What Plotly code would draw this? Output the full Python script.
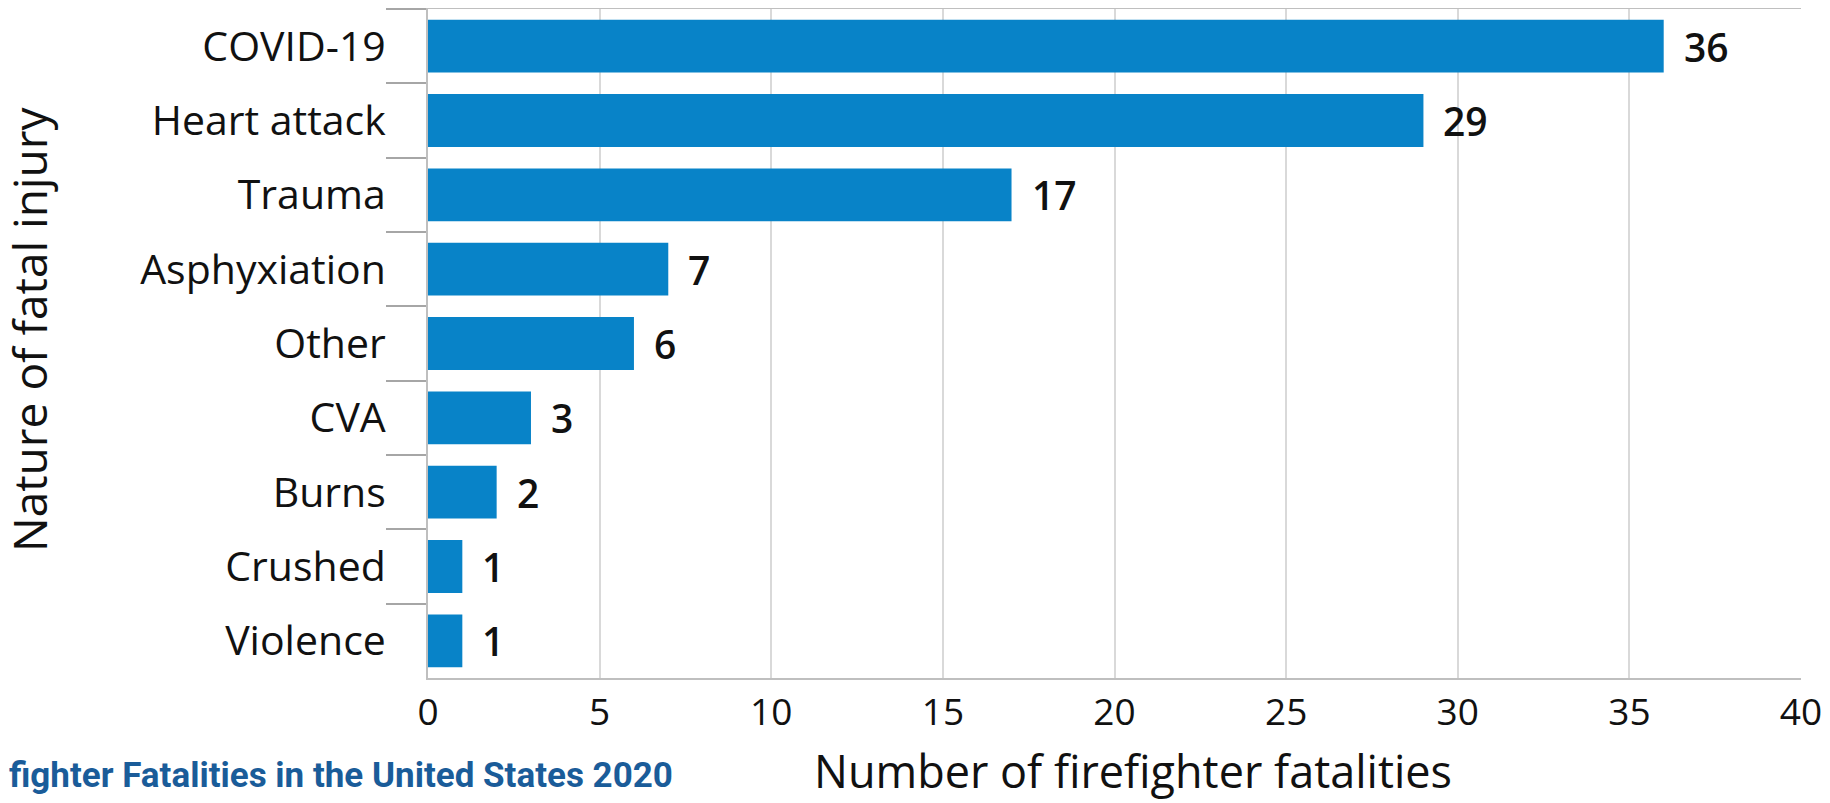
import plotly.graph_objects as go

categories = ["COVID-19", "Heart attack", "Trauma", "Asphyxiation", "Other", "CVA", "Burns", "Crushed", "Violence"]
values = [36, 29, 17, 7, 6, 3, 2, 1, 1]
x_ticks = [0, 5, 10, 15, 20, 25, 30, 35, 40]

BAR = "#0883C8"
FONT = "Open Sans"

# the page body adds an 8px offset, so the figure is drawn 8px smaller
W, H = 1822, 795
L, R, T, B = 420, 29, 1, 125
PW = W - L - R
PH = H - T - B
Y0 = H - B  # bottom of the plot area in figure pixels

fig = go.Figure()
fig.add_trace(go.Bar(
    x=values, y=categories, orientation="h",
    marker=dict(color=BAR, line=dict(width=0)),
    hoverinfo="skip", showlegend=False,
))

for c, v in zip(categories, values):
    fig.add_annotation(x=v, y=c, xref="x", yref="y", text=str(v), showarrow=False,
                       xanchor="left", yanchor="middle", xshift=18,
                       font=dict(family=FONT, size=39, color="#111111", weight=600))

fig.add_annotation(x=(1125 - L) / PW, y=(Y0 - 794) / PH, xref="paper", yref="paper",
                   text="Number of firefighter fatalities", showarrow=False,
                   xanchor="center", yanchor="bottom", borderpad=0,
                   font=dict(family=FONT, size=45, color="#111111"))
fig.add_annotation(x=(21 - L) / PW, y=(Y0 - 322) / PH, xref="paper", yref="paper",
                   text="Nature of fatal injury", showarrow=False, textangle=-90,
                   xanchor="center", yanchor="middle", borderpad=0,
                   font=dict(family=FONT, size=46, color="#111111"))
fig.add_annotation(x=(0 - L) / PW, y=(Y0 - 768) / PH, xref="paper", yref="paper",
                   text="<b>fighter Fatalities in the United States 2020</b>", showarrow=False,
                   xanchor="left", yanchor="middle", borderpad=0,
                   font=dict(family="Liberation Sans Narrow, Roboto, sans-serif", size=35, color="#1A5C99"))

fig.update_layout(
    width=W, height=H,
    margin=dict(l=L, r=R, t=T, b=B),
    paper_bgcolor="white", plot_bgcolor="white",
    bargap=0.29,
    xaxis=dict(range=[0, 40], tickvals=x_ticks, ticktext=[str(t) for t in x_ticks],
               showgrid=True, gridcolor="#D9D9D9", gridwidth=1.5,
               showline=True, linecolor="#BFBFBF", linewidth=2, mirror=True,
               ticks="", ticklabelstandoff=1, zeroline=False, automargin=False,
               tickfont=dict(family=FONT, size=37, color="#111111")),
    yaxis=dict(categoryorder="array", categoryarray=categories, autorange="reversed",
               showline=True, linecolor="#BFBFBF", linewidth=2,
               ticks="outside", tickson="boundaries", ticklen=40, tickcolor="#A6A6A6", tickwidth=2,
               ticklabelstandoff=32, showgrid=False, automargin=False,
               tickfont=dict(family=FONT, size=41, color="#111111")),
)

fig.write_html("out.html")
